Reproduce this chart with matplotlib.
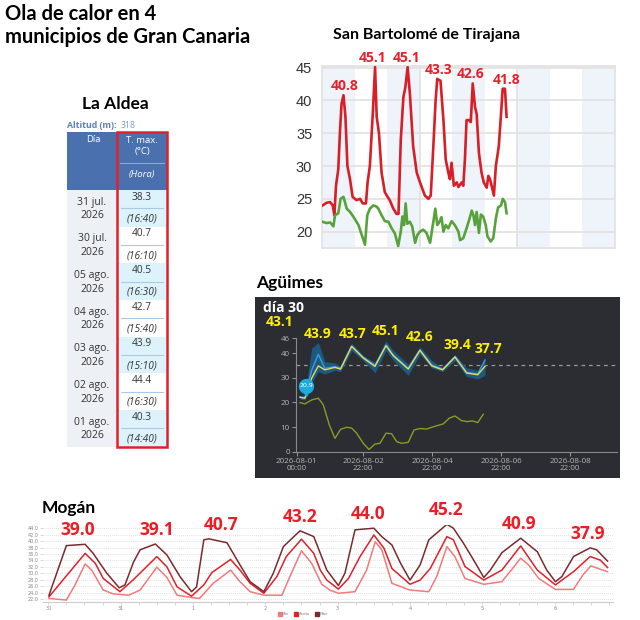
import matplotlib
matplotlib.use("Agg")
import matplotlib.pyplot as plt
from matplotlib.patches import Rectangle
from matplotlib.lines import Line2D

# ---------------- DATA ----------------
# La Aldea table
la_days = ["31 jul.\n2026", "30 jul.\n2026", "05 ago.\n2026", "04 ago.\n2026",
           "03 ago.\n2026", "02 ago.\n2026", "01 ago.\n2026"]
la_tmax = ["38.3", "40.7", "40.5", "42.7", "43.9", "44.4", "40.3"]
la_hour = ["16:40", "16:10", "16:30", "15:40", "15:10", "16:30", "14:40"]
la_alt = 318

# San Bartolomé de Tirajana (x in days from start of axis)
sb_red_d = [0.02, 0.14, 0.25, 0.33, 0.38, 0.43, 0.50, 0.55, 0.60, 0.66, 0.72, 0.78, 0.86, 0.94,
            1.06, 1.17, 1.25, 1.35, 1.40, 1.47, 1.56, 1.63, 1.68, 1.75, 1.83, 1.93, 2.09, 2.19,
            2.29, 2.35, 2.42, 2.50, 2.56, 2.63, 2.70, 2.80, 2.91, 3.01, 3.16, 3.27, 3.34, 3.42,
            3.49, 3.54, 3.64, 3.73, 3.80, 3.88, 3.93, 3.98, 4.05, 4.14, 4.19, 4.29, 4.34, 4.39,
            4.44, 4.52, 4.57, 4.63, 4.70, 4.75, 4.82, 4.90, 4.97, 5.06, 5.11, 5.16, 5.21, 5.28,
            5.34, 5.43, 5.50, 5.55, 5.62, 5.67]
sb_red_v = [24.0, 24.4, 24.5, 24.0, 22.5, 27.0, 29.5, 35.0, 39.5, 40.8, 37.5, 30.0, 28.0, 25.3,
            24.8, 25.0, 24.3, 24.3, 27.5, 30.0, 38.0, 45.1, 37.5, 35.0, 29.0, 26.0, 24.7, 23.5,
            22.7, 22.7, 34.0, 40.5, 42.0, 45.1, 41.0, 33.0, 29.0, 27.5, 25.5, 25.0, 25.5, 33.0,
            40.0, 43.3, 43.0, 37.0, 31.0, 29.0, 28.0, 30.5, 27.0, 27.5, 26.8, 27.5, 27.0, 31.0,
            37.0, 37.0, 36.7, 42.6, 39.0, 38.0, 32.0, 29.0, 27.5, 26.7, 28.5, 28.0, 27.0, 25.5,
            30.0, 33.0, 38.0, 41.8, 41.8, 37.5]
sb_grn_d = [0.02, 0.14, 0.25, 0.35, 0.40, 0.50, 0.57, 0.66, 0.76, 0.86, 0.96, 1.12, 1.22, 1.32,
            1.39, 1.47, 1.58, 1.68, 1.73, 1.83, 1.93, 2.04, 2.14, 2.24, 2.34, 2.42, 2.47, 2.52,
            2.57, 2.62, 2.70, 2.77, 2.86, 2.93, 3.01, 3.11, 3.21, 3.32, 3.42, 3.48, 3.54, 3.60,
            3.67, 3.73, 3.80, 3.88, 3.98, 4.08, 4.19, 4.24, 4.34, 4.44, 4.52, 4.60, 4.65, 4.70,
            4.75, 4.82, 4.88, 4.95, 5.03, 5.08, 5.18, 5.26, 5.34, 5.41, 5.50, 5.55, 5.62, 5.67]
sb_grn_v = [21.5, 21.3, 21.4, 20.8, 22.5, 22.8, 25.0, 25.3, 23.5, 23.0, 22.3, 21.0, 19.5, 18.0,
            22.5, 23.5, 24.0, 23.8, 23.5, 22.5, 21.6, 21.5, 20.5, 19.7, 17.8, 20.0, 22.3, 21.0,
            24.3, 21.2, 21.5, 20.8, 18.3, 19.5, 20.0, 20.3, 19.8, 18.3, 21.5, 23.5, 21.0, 21.4,
            22.2, 20.0, 21.0, 20.5, 21.6, 21.0, 20.0, 18.7, 19.0, 20.5, 21.8, 23.2, 22.5, 21.0,
            23.0, 19.8, 22.6, 22.3, 21.0, 19.3, 18.5, 19.0, 22.0, 23.7, 24.0, 25.0, 24.5, 22.8]
sb_lab_d = [0.71, 1.54, 2.61, 3.59, 4.55, 5.68]
sb_lab_v = [40.8, 45.1, 45.1, 43.3, 42.6, 41.8]

# Agüimes (x in hours from 2026-08-01 00:00)
ag_h = [2.2, 5.6, 10.3, 14.9, 19.5, 26.5, 30.4, 38.1, 46.2, 54.3, 62.0, 67.1, 77.5, 85.6,
        93.8, 101.4, 110.0, 118.1, 125.8, 130.9]
ag_med = [22.1, 21.7, 29.8, 34.8, 33.2, 34.2, 33.5, 42.7, 38.0, 34.6, 43.0, 38.9, 33.5, 41.1,
          34.8, 33.2, 38.4, 31.9, 31.2, 34.6]
ag_blue = [22.1, 21.7, 33.0, 39.5, 33.8, 34.5, 33.8, 42.9, 38.3, 35.0, 43.3, 39.2, 33.8, 41.3,
           35.2, 33.5, 38.6, 32.2, 31.5, 37.2]
ag_hi = [22.8, 22.8, 42.0, 44.3, 36.5, 36.0, 34.5, 44.0, 39.0, 36.2, 45.0, 41.0, 35.5, 42.5,
         37.0, 34.0, 39.5, 34.0, 33.0, 37.7]
ag_lo = [21.3, 21.0, 28.0, 32.5, 31.5, 33.0, 32.5, 41.0, 37.0, 32.0, 41.0, 37.0, 31.0, 39.5,
         34.0, 32.5, 37.0, 30.5, 29.5, 31.0]
ag_min_h = [2.2, 5.6, 10.3, 14.9, 18.4, 22.6, 26.5, 30.4, 34.6, 38.1, 41.6, 46.2, 50.2, 54.3,
            57.8, 62.0, 65.9, 69.4, 72.9, 77.5, 81.5, 85.6, 90.3, 93.8, 98.4, 101.9, 106.0,
            110.0, 114.6, 118.1, 122.3, 125.8, 129.7]
ag_min_v = [19.9, 19.4, 21.0, 21.7, 19.0, 10.8, 5.4, 9.1, 9.9, 9.6, 7.5, 3.4, 0.9, 3.1, 3.4,
            7.5, 7.3, 4.1, 3.4, 3.8, 8.8, 9.4, 9.2, 9.9, 10.7, 11.3, 13.6, 14.5, 12.6, 12.2,
            12.5, 11.8, 15.2]
ag_lab_h = [14.7, 39.0, 62.0, 85.6, 111.4, 133.0]
ag_lab_v = [43.9, 43.7, 45.1, 42.6, 39.4, 37.7]
ag_xticks = [0, 46, 94, 142, 190]
ag_xlabels = ["2026-08-01\n00:00", "2026-08-02\n22:00", "2026-08-04\n22:00",
              "2026-08-06\n22:00", "2026-08-08\n22:00"]
ag_yticks = [0, 10, 20, 30, 40, 46]
ag_pin = 20.9
ag_day_label = "día 30"
ag_day_val = 43.1

# Mogán (x in days, 0 = day 30)
mg_max_d = [0.01, 0.25, 0.51, 0.62, 0.81, 0.98, 1.06, 1.18, 1.27, 1.48, 1.64, 1.82, 1.98, 2.05,
            2.15, 2.22, 2.47, 2.65, 2.79, 2.98, 3.11, 3.25, 3.48, 3.67, 3.76, 3.85, 4.01, 4.10,
            4.24, 4.50, 4.61, 4.75, 4.87, 5.00, 5.14, 5.26, 5.51, 5.60, 5.74, 5.88, 6.02, 6.11,
            6.27, 6.53, 6.76, 6.89, 7.01, 7.10, 7.26, 7.49, 7.58, 7.73]
mg_max_v = [23.2, 38.6, 39.0, 36.2, 30.0, 25.5, 26.4, 33.6, 37.3, 39.1, 35.7, 29.0, 24.3, 25.8,
            40.4, 40.7, 39.5, 32.6, 27.4, 24.3, 30.0, 38.3, 43.2, 41.4, 36.2, 31.0, 26.2, 30.0,
            43.5, 44.0, 41.4, 38.8, 33.1, 27.9, 32.6, 40.4, 45.2, 44.0, 39.3, 34.1, 28.7, 31.0,
            36.4, 40.9, 36.7, 31.0, 27.4, 29.0, 35.2, 37.9, 37.3, 33.8]
mg_med_d = [0.01, 0.25, 0.51, 0.65, 0.76, 0.99, 1.18, 1.50, 1.64, 1.78, 1.98, 2.15, 2.26, 2.52,
            2.65, 2.79, 2.98, 3.16, 3.29, 3.50, 3.67, 3.76, 3.85, 4.01, 4.15, 4.31, 4.50, 4.64,
            4.75, 5.00, 5.14, 5.28, 5.51, 5.60, 5.76, 6.02, 6.27, 6.53, 6.76, 7.01, 7.26, 7.49,
            7.63, 7.73]
mg_med_v = [22.7, 29.2, 36.2, 33.1, 28.4, 24.3, 28.1, 35.2, 32.0, 25.8, 22.9, 26.4, 30.2, 34.3,
            31.0, 26.9, 23.8, 29.0, 35.2, 40.6, 36.2, 31.0, 27.9, 25.1, 28.4, 35.2, 41.9, 37.8,
            31.5, 26.6, 27.9, 31.5, 41.4, 40.4, 32.1, 27.9, 31.0, 38.5, 31.0, 26.4, 30.5, 35.2,
            34.1, 31.8]
mg_min_d = [0.01, 0.25, 0.37, 0.51, 0.60, 0.76, 0.90, 1.11, 1.27, 1.50, 1.64, 1.78, 1.98, 2.09,
            2.28, 2.52, 2.65, 2.79, 2.98, 3.23, 3.34, 3.50, 3.64, 3.78, 3.89, 4.01, 4.24, 4.40,
            4.52, 4.61, 4.75, 5.00, 5.26, 5.37, 5.51, 5.62, 5.76, 6.02, 6.27, 6.40, 6.53, 6.64,
            6.78, 7.01, 7.26, 7.39, 7.50, 7.73]
mg_min_v = [22.2, 21.7, 26.4, 32.9, 31.0, 24.8, 23.6, 23.2, 24.8, 31.9, 28.7, 23.2, 22.5, 22.2,
            26.9, 31.0, 27.4, 24.3, 23.2, 23.2, 29.0, 37.0, 33.1, 26.6, 24.8, 23.8, 24.3, 31.0,
            39.8, 37.3, 26.9, 24.8, 24.3, 29.0, 38.3, 35.2, 28.4, 26.6, 27.4, 31.0, 34.7, 32.6,
            28.4, 25.0, 25.0, 29.5, 32.3, 30.5]
mg_lab_d = [0.41, 1.50, 2.39, 3.48, 4.42, 5.50, 6.51, 7.46]
mg_lab_v = [39.0, 39.1, 40.7, 43.2, 44.0, 45.2, 40.9, 37.9]
mg_xlabels = ["30", "31", "1", "2", "3", "4", "5", "6"]
mg_series = ["Min", "Media", "Max"]

# ---------------- FIGURE ----------------
W, H = 640, 620
fig = plt.figure(figsize=(6.4, 6.2), dpi=100)
fig.patch.set_facecolor("white")
TF = "Lato"


def px_axes(x0, y0, x1, y1):
    return fig.add_axes([x0 / W, 1 - y1 / H, (x1 - x0) / W, (y1 - y0) / H])


ov = px_axes(0, 0, W, H)
ov.set_xlim(0, W)
ov.set_ylim(H, 0)
ov.axis("off")
ov.set_zorder(0)

ov.text(5, 4, "Ola de calor en 4\nmunicipios de Gran Canaria", family=TF, fontweight="bold",
        fontsize=14.5, va="top", ha="left", linespacing=1.2, color="black")

# ---- La Aldea table ----
ov.text(115, 104, "La Aldea", family=TF, fontweight="bold", fontsize=12.5, ha="center", va="center")
ov.text(67, 126, "Altitud (m):", family="Open Sans", fontweight="bold", fontsize=6.3,
        color="#5a7fb8", ha="left", va="center")
ov.text(121, 126, str(la_alt), family="Open Sans", fontsize=6.3, color="#7f9cc8", ha="left", va="center")
hdr_col = "#4a70ae"
ov.add_patch(Rectangle((67, 132), 100, 58, facecolor=hdr_col, edgecolor="none"))
ov.text(93, 140, "Día", color="white", fontsize=6.8, family="Open Sans", ha="center", va="center")
ov.text(142, 146, "T. max.\n(°C)", color="white", fontsize=6.8, family="Open Sans",
        ha="center", va="center", linespacing=1.3)
ov.plot([120, 164], [162.5, 162.5], color="#8fa9d4", lw=0.8)
ov.text(142, 175, "(Hora)", color="white", fontsize=6.8, family="Open Sans", style="italic",
        ha="center", va="center")
blk = 36.67
top0 = 190
ov.add_patch(Rectangle((67, top0), 50, blk * len(la_days), facecolor="#edf1f6", edgecolor="none"))
for i, (d, t, hr) in enumerate(zip(la_days, la_tmax, la_hour)):
    top = top0 + i * blk
    bg = "#ddf3fb" if i % 2 == 0 else "white"
    ov.add_patch(Rectangle((117, top), 50, blk, facecolor=bg, edgecolor="none"))
    ov.plot([121, 163], [top + 18.3, top + 18.3], color="#a9c9ea", lw=0.8)
    ov.text(92, top + 19, d, ha="center", va="center", fontsize=7.5, color="#333333",
            family="Open Sans", linespacing=1.3)
    ov.text(142, top + 7, t, ha="center", va="center", fontsize=7.3, color="#333333", family="Open Sans")
    ov.text(142, top + 29, "(" + hr + ")", ha="center", va="center", fontsize=7.3, color="#333333",
            family="Open Sans", style="italic")
ov.add_patch(Rectangle((117, 132), 50, top0 + blk * len(la_days) - 132, facecolor="none",
                       edgecolor="#e0202a", lw=1.8))

# ---- San Bartolomé de Tirajana ----
ov.text(427, 35, "San Bartolomé de Tirajana", family=TF, fontweight="bold", fontsize=11.5,
        ha="center", va="center")
sb = px_axes(322, 66, 615, 248)
sb.set_xlim(0, 9)
sb.set_ylim(17.5, 45.26)
for k in range(0, 9, 2):
    sb.axvspan(k, k + 1, color="#eef4fa", lw=0, zorder=0)
for v in [20, 25, 30, 35, 40, 45]:
    sb.axhline(v, color="#e3e3e3", lw=1.3, zorder=1)
for k in [3, 6]:
    sb.axvline(k, color="#e3e3e3", lw=1.3, zorder=1)
sb.plot(sb_red_d, sb_red_v, color="#d81e27", lw=1.9, zorder=3, solid_joinstyle="round")
sb.plot(sb_grn_d, sb_grn_v, color="#58a23c", lw=1.9, zorder=3, solid_joinstyle="round")
for x, v in zip(sb_lab_d, sb_lab_v):
    sb.annotate(f"{v:.1f}", (x, v), xytext=(0, 1.5), textcoords="offset points", ha="center",
                va="bottom", color="#e8202a", fontweight="bold", fontsize=10, family="Open Sans",
                annotation_clip=False)
sb.set_yticks([20, 25, 30, 35, 40, 45])
sb.set_xticks([])
sb.tick_params(axis="y", length=0, pad=7, labelsize=10.5, labelcolor="#333333")
for lab in sb.get_yticklabels():
    lab.set_family("Liberation Sans")
for s in sb.spines.values():
    s.set_color("#e3e3e3")
    s.set_linewidth(1.3)

# ---- Agüimes ----
ov.text(256, 283, "Agüimes", family=TF, fontweight="bold", fontsize=12.5, ha="left", va="center")
ov.add_patch(Rectangle((255, 297), 365, 181, facecolor="#2b2d33", edgecolor="none"))
ov.text(263, 308, ag_day_label, color="white", fontweight="bold", fontsize=10, family="Open Sans",
        ha="left", va="center")
ov.text(266, 322, f"{ag_day_val:.1f}", color="#fff000", fontweight="bold", fontsize=10,
        family="Open Sans", ha="left", va="center")
ag = px_axes(296, 338.3, 617, 451.7)
ag.set_facecolor("none")
ag.set_zorder(2)
ag.set_xlim(-0.6, 222.7)
ag.set_ylim(0, 46)
ag.axhline(35, color="#9a9a9a", lw=0.9, ls=(0, (3, 3)), zorder=1)
ag.fill_between(ag_h, ag_lo, ag_hi, color="#1d5a80", lw=0, zorder=2)
ag.plot(ag_h, ag_blue, color="#3a9be4", lw=1.0, zorder=3)
ag.plot(ag_h, ag_med, color="#e8d65a", lw=1.0, zorder=4)
ag.plot(ag_min_h, ag_min_v, color="#8c9a26", lw=1.0, zorder=3)
ag.plot([6.5], [26.8], marker="o", markersize=10, color="#1eaadc", zorder=5, clip_on=False)
ag.plot([6.5], [23.8], marker="v", markersize=5, color="#1eaadc", zorder=5, clip_on=False)
ag.text(6.5, 26.8, f"{ag_pin:.1f}", color="white", fontsize=4.5, ha="center", va="center", zorder=6)
for x, v in zip(ag_lab_h, ag_lab_v):
    ag.annotate(f"{v:.1f}", (x, v), xytext=(0, 2), textcoords="offset points", ha="center",
                va="bottom", color="#fff000", fontweight="bold", fontsize=10, family="Open Sans",
                annotation_clip=False)
ag.set_xticks(ag_xticks)
ag.set_xticklabels(ag_xlabels, linespacing=0.95)
ag.set_yticks(ag_yticks)
ag.tick_params(colors="#9a9a9a", labelcolor="#b5b5b5", labelsize=5.8, length=3, width=0.7, pad=1.5)
for lab in ag.get_xticklabels() + ag.get_yticklabels():
    lab.set_family("Open Sans")
for sname in ["top", "right"]:
    ag.spines[sname].set_visible(False)
for sname in ["left", "bottom"]:
    ag.spines[sname].set_color("#8a8a8a")
    ag.spines[sname].set_linewidth(0.8)

# ---- Mogán ----
ov.text(42, 508, "Mogán", family=TF, fontweight="bold", fontsize=12.5, ha="left", va="center")
mg = px_axes(43, 525, 613, 602.3)
mg.set_xlim(-0.073, 7.806)
mg.set_ylim(21, 45)
for v in range(22, 45, 2):
    mg.axhline(v, color="#d8d8d8", lw=0.6, ls=(0, (1, 1.5)), zorder=0)
c_min, c_med, c_max = "#f37a7a", "#e0202a", "#7b2a2e"
mg.plot(mg_min_d, mg_min_v, color=c_min, lw=1.1, zorder=2, solid_joinstyle="round")
mg.plot(mg_med_d, mg_med_v, color=c_med, lw=1.1, zorder=3, solid_joinstyle="round")
mg.plot(mg_max_d, mg_max_v, color=c_max, lw=1.1, zorder=4, solid_joinstyle="round")
for x, v in zip(mg_lab_d, mg_lab_v):
    mg.annotate(f"{v:.1f}", (x, v), xytext=(0, 3.5), textcoords="offset points", ha="center",
                va="bottom", color="#ee1c25", fontweight="bold", fontsize=12.5, family="Open Sans",
                annotation_clip=False)
mg.set_yticks(range(22, 45, 2))
mg.set_yticklabels([f"{v:.1f}" for v in range(22, 45, 2)])
mg.set_xticks(range(8))
mg.set_xticklabels(mg_xlabels)
mg.set_xticks([k / 4 for k in range(0, 32)], minor=True)
mg.tick_params(axis="both", labelsize=3.5, labelcolor="#888888", color="#cccccc", length=2, width=0.5, pad=1)
mg.tick_params(axis="x", which="minor", length=2, color="#cccccc", width=0.5)
for sname in ["top", "right", "left"]:
    mg.spines[sname].set_visible(False)
mg.spines["bottom"].set_color("#cccccc")
mg.spines["bottom"].set_linewidth(0.8)
handles = [Line2D([], [], marker="s", ls="none", color=c, markersize=3) for c in (c_min, c_med, c_max)]
fig.legend(handles, mg_series, loc="center", bbox_to_anchor=(303 / W, 1 - 614 / H), ncol=3,
           fontsize=3, frameon=False, handlelength=0.6, handletextpad=0.3, columnspacing=1.2,
           labelcolor="#888888")

fig.savefig("out.png", dpi=100, facecolor="white")
